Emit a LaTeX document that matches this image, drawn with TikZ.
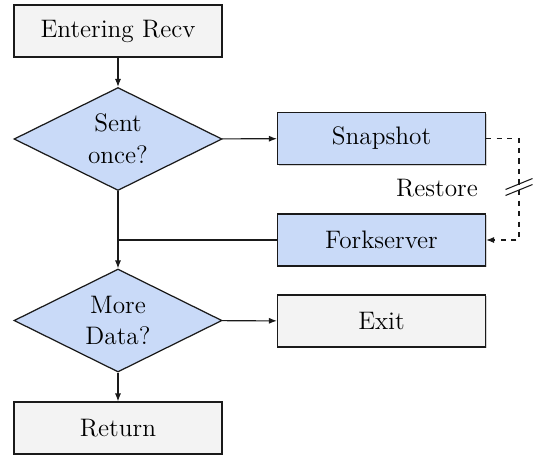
\documentclass[tikz,border=0pt]{standalone}
\usepackage{tikz}
\usetikzlibrary{shapes.geometric,shadows,arrows.meta}

\definecolor{stepblue}{HTML}{C9DAF8}
\definecolor{stepgray}{HTML}{F3F3F3}
\definecolor{lineink}{HTML}{1A1A1A}

\tikzset{
  stepbox/.style={draw=lineink,line width=0.7pt,minimum width=4.16cm,minimum height=1.04cm,
    drop shadow={shadow xshift=0.6pt,shadow yshift=-0.8pt,opacity=0.35}},
  graybox/.style={stepbox,fill=stepgray},
  bluebox/.style={stepbox,fill=stepblue},
  choice/.style={diamond,draw=lineink,line width=0.7pt,fill=stepblue,aspect=2,inner sep=1pt,
    minimum width=4.16cm,minimum height=2.06cm,align=center},
  flow/.style={draw=lineink,line width=0.6pt,-{Latex[length=4.5pt,width=3.4pt]}}
}

\begin{document}
\begin{tikzpicture}[font=\Large]
      \useasboundingbox (0,0) rectangle (10.72,-9.14);
      % Main column
      \node[graybox] (enter) at (2.36,-0.62) {Entering Recv};
      \node[choice] (sent) at (2.36,-2.78) {Sent\\once?};
      \node[choice] (more) at (2.36,-6.41) {More\\Data?};
      \node[graybox] (ret) at (2.36,-8.56) {Return};
      % Right column
      \node[bluebox] (snap) at (7.63,-2.77) {Snapshot};
      \node[bluebox] (fork) at (7.63,-4.80) {Forkserver};
      \node[graybox] (exit) at (7.63,-6.42) {Exit};
      \coordinate (join) at (sent.south |- fork.west);
      \coordinate (bend) at (10.38,-2.77);
      \coordinate (brk) at (10.38,-3.74);
      \draw[flow] (enter) -- (sent);
      \draw[flow] (sent) -- (snap);
      \draw[flow] (sent) -- (more);
      \draw[line width=0.6pt,draw=lineink] (fork.west) -- (join);
      \draw[flow] (more) -- (exit);
      \draw[flow] (more) -- (ret);
      % Restore path
      \draw[flow,dashed] (snap.east) -- (bend) |- (fork.east);
      \node[anchor=east] (restore) at (9.68,-3.76) {Restore};
      \draw[line width=0.6pt,draw=lineink] ([shift={(-0.27,-0.05)}]brk) -- ([shift={(0.27,0.17)}]brk);
      \draw[line width=0.6pt,draw=lineink] ([shift={(-0.27,-0.17)}]brk) -- ([shift={(0.27,0.05)}]brk);
    \end{tikzpicture}
\end{document}
